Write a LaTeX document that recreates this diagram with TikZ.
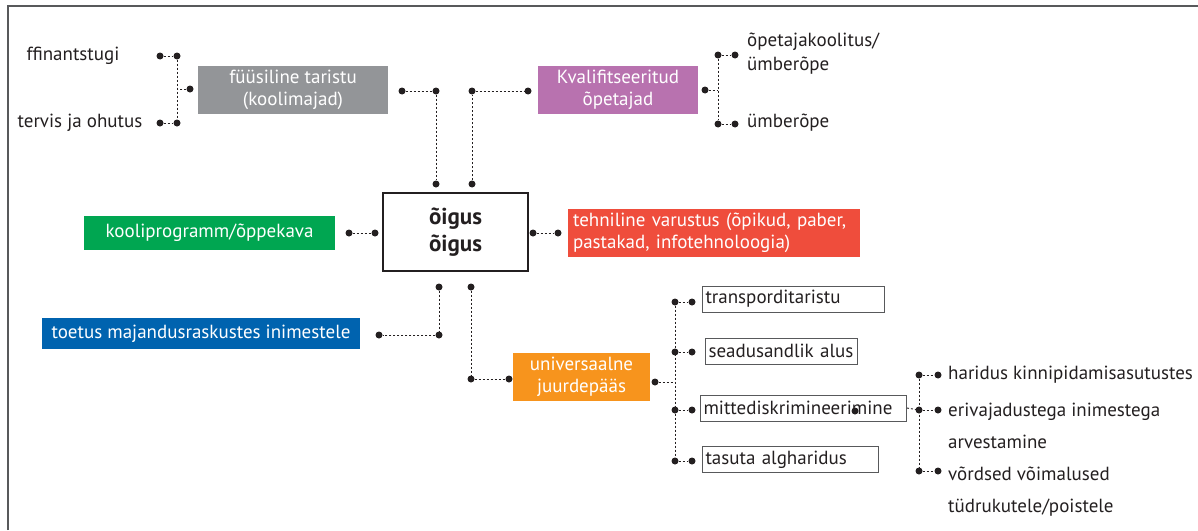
\documentclass[tikz,border=0pt]{standalone}
\usepackage{fontspec}
\setmainfont{PT Sans}
\definecolor{ink}{HTML}{231F20}
\definecolor{rim}{HTML}{58595B}
\definecolor{cgray}{HTML}{939598}
\definecolor{cpink}{HTML}{B872AF}
\definecolor{cgreen}{HTML}{00A651}
\definecolor{cred}{HTML}{EF4D3C}
\definecolor{cblue}{HTML}{0063AF}
\definecolor{corange}{HTML}{F7941D}

\begin{document}
\begin{tikzpicture}[x=1pt, y=-1pt, font=\fontsize{19}{22.5}\selectfont,
	colbox/.style={rectangle, text=white, inner sep=0pt, align=center},
	lbox/.style={rectangle, draw=rim, line width=1pt, inner xsep=3pt, inner ysep=0pt, minimum height=26pt, align=left, anchor=west, text=ink},
	blob/.style={circle, fill=ink, inner sep=0pt, minimum size=7pt},
	conn/.style={draw=ink, line width=0.9pt, dash pattern=on 2pt off 2pt},
	txt/.style={inner sep=0pt, align=left, text=ink}]
	\useasboundingbox (0,0) rectangle (1198,530);
	\draw[line width=2pt, draw=rim] (8,530) -- (8,6) -- (1198,6);

	% boxes
	\node[draw=ink, line width=2pt, minimum width=145pt, minimum height=78pt, inner sep=0pt, align=center, font=\bfseries\fontsize{23}{27}\selectfont, text=ink] (right) at (455.5,232) {õigus\\õigus};
	\node[colbox, fill=cgray, minimum width=190pt, minimum height=48pt] (phys) at (293,90) {füüsiline taristu\\(koolimajad)};
	\node[colbox, fill=cpink, minimum width=160pt, minimum height=48pt] (qual) at (618,90) {Kvalifitseeritud\\õpetajad};
	\node[colbox, fill=cgreen, minimum width=251pt, minimum height=34pt] (curr) at (209.5,233) {kooliprogramm/õppekava};
	\node[colbox, fill=cred, minimum width=292pt, minimum height=48pt, inner xsep=5pt, text width=282pt, align=left] (tech) at (714,233) {tehniline varustus (õpikud, paber,\\pastakad, infotehnoloogia)};
	\node[colbox, fill=cblue, minimum width=318pt, minimum height=31pt] (supp) at (201,333.5) {toetus majandusraskustes inimestele};
	\node[colbox, fill=corange, minimum width=137pt, minimum height=48pt] (univ) at (581.5,377) {universaalne\\juurdepääs};

	\node[lbox, text width=176pt] (trans) at (702,299) {transporditaristu};
	\node[lbox, text width=146pt] (law) at (705,351) {seadusandlik alus};
	\node[lbox, text width=200pt] (nondis) at (700,408) {mittediskrimineerimine};
	\node[lbox, text width=170pt] (free) at (702,459.5) {tasuta algharidus};

	% plain labels
	\node[txt] (fin) at (73,56) {ffinantstugi};
	\node[txt] (health) at (80,123) {tervis ja ohutus};
	\node[txt, anchor=west, font=\fontsize{19}{24}\selectfont] (train) at (747,54) {õpetajakoolitus/\\ümberõpe};
	\node[txt, anchor=west] (retrain) at (747,123) {ümberõpe};
	\node[txt, anchor=west] (prison) at (948,375) {haridus kinnipidamisasutustes};
	\node[txt, anchor=west, font=\fontsize{19}{32}\selectfont] (needs) at (948,426) {erivajadustega inimestega\\arvestamine};
	\node[txt, anchor=west, font=\fontsize{19}{32}\selectfont] (equal) at (948,492) {võrdsed võimalused\\tüdrukutele/poistele};

	% dots
	\node[blob] (f1) at (160,56) {};
	\node[blob] (f2) at (177,56) {};
	\node[blob] (h1) at (160,123) {};
	\node[blob] (h2) at (177,123) {};
	\node[blob] (g1) at (190,89) {};
	\coordinate (gj) at (177,89);
	\node[blob] (a1) at (402,91) {};
	\node[blob] (a2) at (436,91) {};
	\node[blob] (a3) at (436,184) {};
	\node[blob] (b1) at (472,91) {};
	\node[blob] (b2) at (528,91) {};
	\node[blob] (b3) at (472,184) {};
	\node[blob] (k1) at (705,90) {};
	\coordinate (kj) at (718,90);
	\node[blob] (p1) at (718,55) {};
	\node[blob] (p2) at (735,55) {};
	\node[blob] (u1) at (718,124) {};
	\node[blob] (u2) at (735,124) {};
	\node[blob] (c1) at (349,233) {};
	\node[blob] (c2) at (375,233) {};
	\node[blob] (e1) at (533,233) {};
	\node[blob] (e2) at (558,233) {};
	\node[blob] (s1) at (439,287) {};
	\node[blob] (s2) at (439,335) {};
	\node[blob] (s3) at (379,335) {};
	\node[blob] (j1) at (471,287) {};
	\node[blob] (j2) at (471,379) {};
	\node[blob] (j3) at (509,379) {};
	\node[blob] (o1) at (655,382) {};
	\coordinate (oj) at (675,382);
	\foreach \n/\y in {1/302, 2/352, 3/410, 4/461} {
		\node[blob] (v\n) at (675,\y) {};
		\node[blob] (w\n) at (692,\y) {};
	}
	\node[blob] (m1) at (855,411) {};
	\coordinate (mj) at (919,410);
	\foreach \n/\y in {1/375, 2/410, 3/471} {
		\node[blob] (r\n) at (919,\y) {};
		\node[blob] (q\n) at (938,\y) {};
	}

	% connectors
	\draw[conn] (f1) -- (f2);
	\draw[conn] (h1) -- (h2);
	\draw[conn] (f2) -- (h2);
	\draw[conn] (g1) -- (gj);
	\draw[conn] (a1) -- (a2) -- (a3);
	\draw[conn] (b3) -- (b1) -- (b2);
	\draw[conn] (k1) -- (kj);
	\draw[conn] (p1) -- (u1);
	\draw[conn] (p1) -- (p2);
	\draw[conn] (u1) -- (u2);
	\draw[conn] (c1) -- (c2);
	\draw[conn] (e1) -- (e2);
	\draw[conn] (s1) -- (s2) -- (s3);
	\draw[conn] (j1) -- (j2) -- (j3);
	\draw[conn] (o1) -- (oj);
	\draw[conn] (v1) -- (v4);
	\foreach \n in {1,...,4}
		\draw[conn] (v\n) -- (w\n);
	\draw[conn] (nondis.east) -- (mj);
	\draw[conn] (r1) -- (r3);
	\foreach \n in {1,...,3}
		\draw[conn] (r\n) -- (q\n);
\end{tikzpicture}
\end{document}
